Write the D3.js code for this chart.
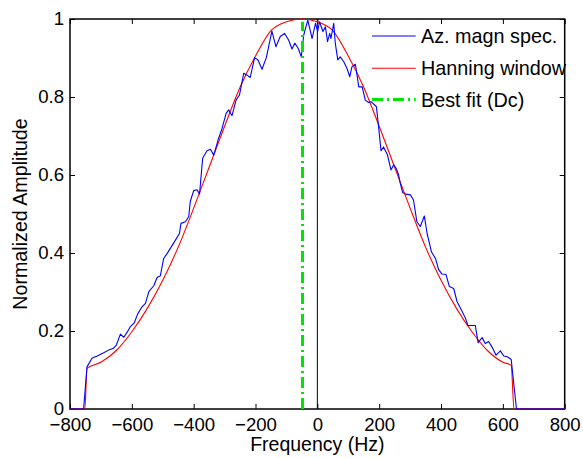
<!DOCTYPE html>
<html>
<head>
<meta charset="utf-8">
<script src="https://cdn.jsdelivr.net/npm/d3@7"></script>
<style>
  html, body { margin: 0; padding: 0; background: #fff; }
  svg { display: block; }
  text { font-family: "Liberation Sans", Arial, Helvetica, sans-serif; fill: #000; }
</style>
</head>
<body>
<svg id="chart" width="583" height="458"></svg>
<script>
// ---- Data ----
const specFreq = [-800,-756,-745,-729,-712,-691,-675,-659,-650,-637,-626,-615,-605,-592,-581,-567,-556,-545,-529,-518,-508,-497,-484,-473,-459,-446,-441,-427,-416,-411,-400,-389,-381,-371,-357,-346,-335,-321,-308,-295,-287,-276,-263,-252,-238,-227,-217,-203,-192,-179,-165,-147,-134,-120,-106,-93,-82,-73,-62,-52,-44,-31,-17,-6,1,7,18,26,33,40,44,53,58,66,74,85,96,105,112,123,134,145,155,166,174,191,198,206,214,227,238,247,255,263,268,276,285,301,311,322,333,346,355,369,382,392,403,416,427,441,452,466,479,487,500,511,520,533,543,554,567,578,592,603,614,627,644,800];
const specAmp  = [0,0,0.108,0.130,0.136,0.144,0.151,0.156,0.164,0.192,0.184,0.197,0.211,0.221,0.244,0.262,0.271,0.301,0.316,0.338,0.341,0.386,0.401,0.415,0.433,0.450,0.476,0.480,0.493,0.532,0.560,0.562,0.551,0.643,0.662,0.666,0.651,0.690,0.720,0.758,0.767,0.752,0.792,0.805,0.861,0.856,0.850,0.901,0.895,0.871,0.901,0.969,0.929,0.955,0.963,0.946,0.923,0.938,0.925,0.903,0.959,0.997,0.950,0.989,0.968,0.993,0.968,0.980,0.942,0.963,0.950,0.989,0.938,0.895,0.903,0.891,0.873,0.852,0.878,0.884,0.826,0.826,0.792,0.786,0.788,0.775,0.724,0.662,0.672,0.651,0.613,0.626,0.617,0.600,0.579,0.555,0.551,0.549,0.536,0.480,0.468,0.495,0.450,0.403,0.386,0.358,0.346,0.345,0.314,0.309,0.275,0.254,0.233,0.214,0.214,0.214,0.170,0.183,0.168,0.173,0.156,0.138,0.149,0.136,0.134,0.127,0,0];

const hannFreq = [-800,-752,-745,-700,-650,-600,-550,-500,-450,-400,-350,-300,-250,-200,-150,-100,-50,0,50,100,150,200,250,300,350,400,450,500,550,600,627,636,800];
const hannAmp  = [0,0,0.104,0.120,0.150,0.198,0.258,0.330,0.415,0.515,0.620,0.725,0.825,0.905,0.970,0.993,1.000,0.993,0.970,0.905,0.825,0.725,0.620,0.515,0.415,0.330,0.258,0.198,0.150,0.120,0.112,0,0];

const dcFreq = [-48, -48];
const dcAmp  = [0, 0.993];

const zeroFreq = [0, 0];
const zeroAmp  = [0, 1];

const xTicks = [-800,-600,-400,-200,0,200,400,600,800];
const yTicks = [0,0.2,0.4,0.6,0.8,1];
const yTickLabels = ["0","0.2","0.4","0.6","0.8","1"];
const xTickLabels = ["\u2212800","\u2212600","\u2212400","\u2212200","0","200","400","600","800"];

const legendLabels = ["Az. magn spec.", "Hanning window", "Best fit (Dc)"];
const seriesColors = ["#0000ff", "#ff0000", "#00e600"];

// ---- Layout ----
const L = 70, R = 564.7, T = 19, B = 409;
const svg = d3.select("#chart");
const x = d3.scaleLinear().domain([-800, 800]).range([L, R]);
const y = d3.scaleLinear().domain([0, 1]).range([B, T]);

const line = d3.line().x(d => x(d[0])).y(d => y(d[1]));
const zipXY = (a, b) => a.map((v, i) => [v, b[i]]);

// vertical line at 0 Hz
svg.append("path").attr("d", line(zipXY(zeroFreq, zeroAmp)))
  .attr("stroke", "#000").attr("stroke-width", 1).attr("fill", "none");

// axes box
svg.append("rect").attr("x", L).attr("y", T).attr("width", R - L).attr("height", B - T)
  .attr("fill", "none").attr("stroke", "#000").attr("stroke-width", 1.5);

// ticks (inward, all 4 sides) using d3 axes
const tl = 5;
const axB = d3.axisBottom(x).tickValues(xTicks).tickSize(-tl).tickFormat((d, i) => xTickLabels[i]).tickPadding(9);
const gB = svg.append("g").attr("transform", `translate(0,${B})`).call(axB);
const axT = d3.axisTop(x).tickValues(xTicks).tickSize(-tl).tickFormat("");
const gT = svg.append("g").attr("transform", `translate(0,${T})`).call(axT);
const axL = d3.axisLeft(y).tickValues(yTicks).tickSize(-tl).tickFormat((d, i) => yTickLabels[i]).tickPadding(6);
const gL = svg.append("g").attr("transform", `translate(${L},0)`).call(axL);
const axR = d3.axisRight(y).tickValues(yTicks).tickSize(-tl).tickFormat("");
const gR = svg.append("g").attr("transform", `translate(${R},0)`).call(axR);
[gB, gT, gL, gR].forEach(g => {
  g.select(".domain").remove();
  g.selectAll(".tick line").attr("stroke", "#000").attr("stroke-width", 1);
  g.selectAll("text").attr("font-size", "18.6px").attr("font-family", "'Liberation Sans', Arial, sans-serif").attr("fill", "#000");
});

// data lines
svg.append("path")
  .attr("d", d3.line().x(d => x(d[0])).y(d => y(d[1])).curve(d3.curveMonotoneX)(zipXY(hannFreq, hannAmp)))
  .attr("stroke", seriesColors[1]).attr("stroke-width", 1.1).attr("fill", "none");
svg.append("path").attr("d", line(zipXY(specFreq, specAmp)))
  .attr("stroke", seriesColors[0]).attr("stroke-width", 1.1).attr("fill", "none")
  .attr("stroke-linejoin", "round");
svg.append("path").attr("d", line(zipXY(dcFreq, dcAmp)))
  .attr("stroke", seriesColors[2]).attr("stroke-width", 3).attr("fill", "none")
  .attr("stroke-dasharray", "11,4,2,4");

// legend
const lg = svg.append("g");
const rowY = [36, 68.3, 99.5];
legendLabels.forEach((lab, i) => {
  const ln = lg.append("line").attr("x1", 372).attr("x2", 415.7).attr("y1", rowY[i]).attr("y2", rowY[i])
    .attr("stroke", seriesColors[i]).attr("stroke-width", i === 2 ? 3 : 1.1);
  if (i === 2) ln.attr("stroke-dasharray", "11,4,2,4");
  lg.append("text").attr("x", 421).attr("y", rowY[i] + 7).attr("font-size", "19.8px").text(lab);
});

// axis labels
svg.append("text").attr("x", (L + R) / 2).attr("y", 451).attr("text-anchor", "middle")
  .attr("font-size", "19.5px").text("Frequency (Hz)");
svg.append("text").attr("transform", `translate(27,${(T + B) / 2}) rotate(-90)`).attr("text-anchor", "middle")
  .attr("font-size", "19.7px").text("Normalized Amplitude");
</script>
</body>
</html>
